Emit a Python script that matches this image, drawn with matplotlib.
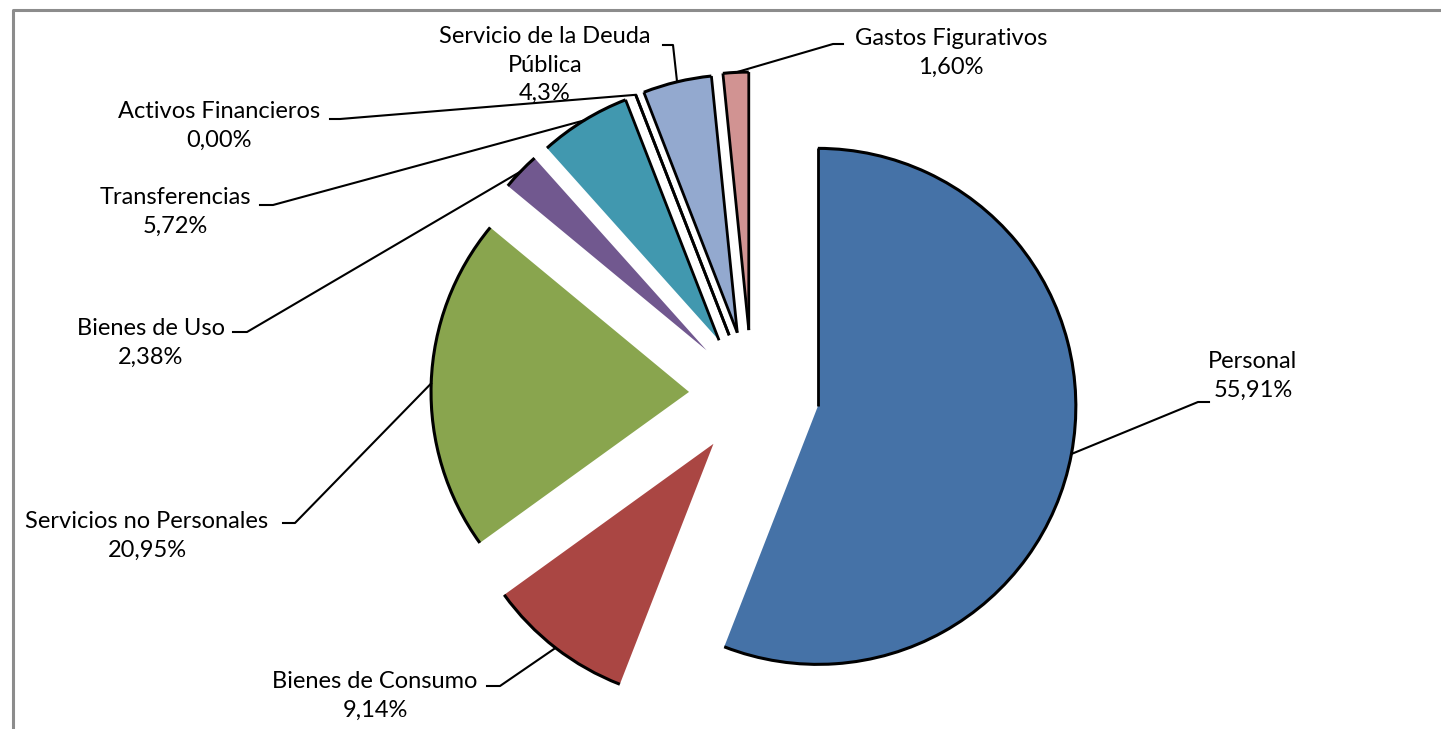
import numpy as np
import matplotlib
matplotlib.use('Agg')
import matplotlib.pyplot as plt
from matplotlib.patches import Arc

# datos
categorias = ["Personal", "Bienes de Consumo", "Servicios no Personales", "Bienes de Uso",
              "Transferencias", "Activos Financieros", "Servicio de la Deuda\nPública",
              "Gastos Figurativos"]
porcentajes = [55.91, 9.14, 20.95, 2.38, 5.72, 0.00, 4.3, 1.60]
etiquetas_pct = ["55,91%", "9,14%", "20,95%", "2,38%", "5,72%", "0,00%", "4,3%", "1,60%"]
colores = ["#4572A7", "#AA4643", "#89A54E", "#71588F", "#4198AF", "#DB843D", "#93A9CF", "#D19392"]

W, H = 1441, 729
plt.rcParams['font.family'] = ['Lato', 'DejaVu Sans']

fig = plt.figure(figsize=(W / 100, H / 100), dpi=100)
ax = fig.add_axes([0, 0, 1, 1])

cx, cy, R = 752, H - 394, 258
# explode en unidades de datos (pixeles)
separacion = [67, 63, 63, 63, 63, 63, 63, 64]
wedges, _ = ax.pie(porcentajes, colors=colores, startangle=90, counterclock=False,
                   explode=separacion, center=(cx, cy), radius=R,
                   wedgeprops=dict(linewidth=0), frame=True)

# contorno negro: arcos y bordes cerca de la vertical
for w in wedges:
    x0, y0 = w.center
    ax.add_patch(Arc((x0, y0), 2 * w.r, 2 * w.r, theta1=w.theta1, theta2=w.theta2,
                     color='black', lw=2.2, zorder=3))
    for a in (w.theta1, w.theta2):
        a = a % 360
        if 80 <= a <= 116:
            t = np.radians(a)
            ax.plot([x0, x0 + w.r * np.cos(t)], [y0, y0 + w.r * np.sin(t)],
                    color='black', lw=2.0, zorder=3, solid_capstyle='butt')

# posiciones de etiquetas (pixeles): texto, codo, extremo
pos_texto = [(1253, 376), (375, 696), (147, 536), (151, 343), (175, 212), (219, 126), (545, 65), (951, 53)]
codo = [(1198, 402), (500, 686), (295, 523), (247, 332), (273, 205), (340, 119), (673, 45), (833, 44)]
extremo = [(1209, 402), (487, 686), (283, 523), (233, 332), (260, 205), (330, 119), (663, 45), (843, 44)]

for i, w in enumerate(wedges):
    x0, y0 = w.center
    t = np.radians((w.theta1 + w.theta2) / 2)
    p0 = (x0 + w.r * np.cos(t), y0 + w.r * np.sin(t))
    xs = [p0[0], codo[i][0], extremo[i][0]]
    ys = [p0[1], H - codo[i][1], H - extremo[i][1]]
    ax.plot(xs, ys, color='black', lw=1.5, zorder=4)
    ax.text(pos_texto[i][0], H - pos_texto[i][1], categorias[i] + "\n" + etiquetas_pct[i],
            ha='center', va='center', fontsize=17, linespacing=1.45, color='black', zorder=5)

# marco gris
ax.plot([13, 13, W], [0, H - 10, H - 10], color='#8c8c8c', lw=2.2, zorder=6)

ax.set_xlim(0, W)
ax.set_ylim(0, H)
ax.axis('off')
fig.savefig('out.png', dpi=100)
